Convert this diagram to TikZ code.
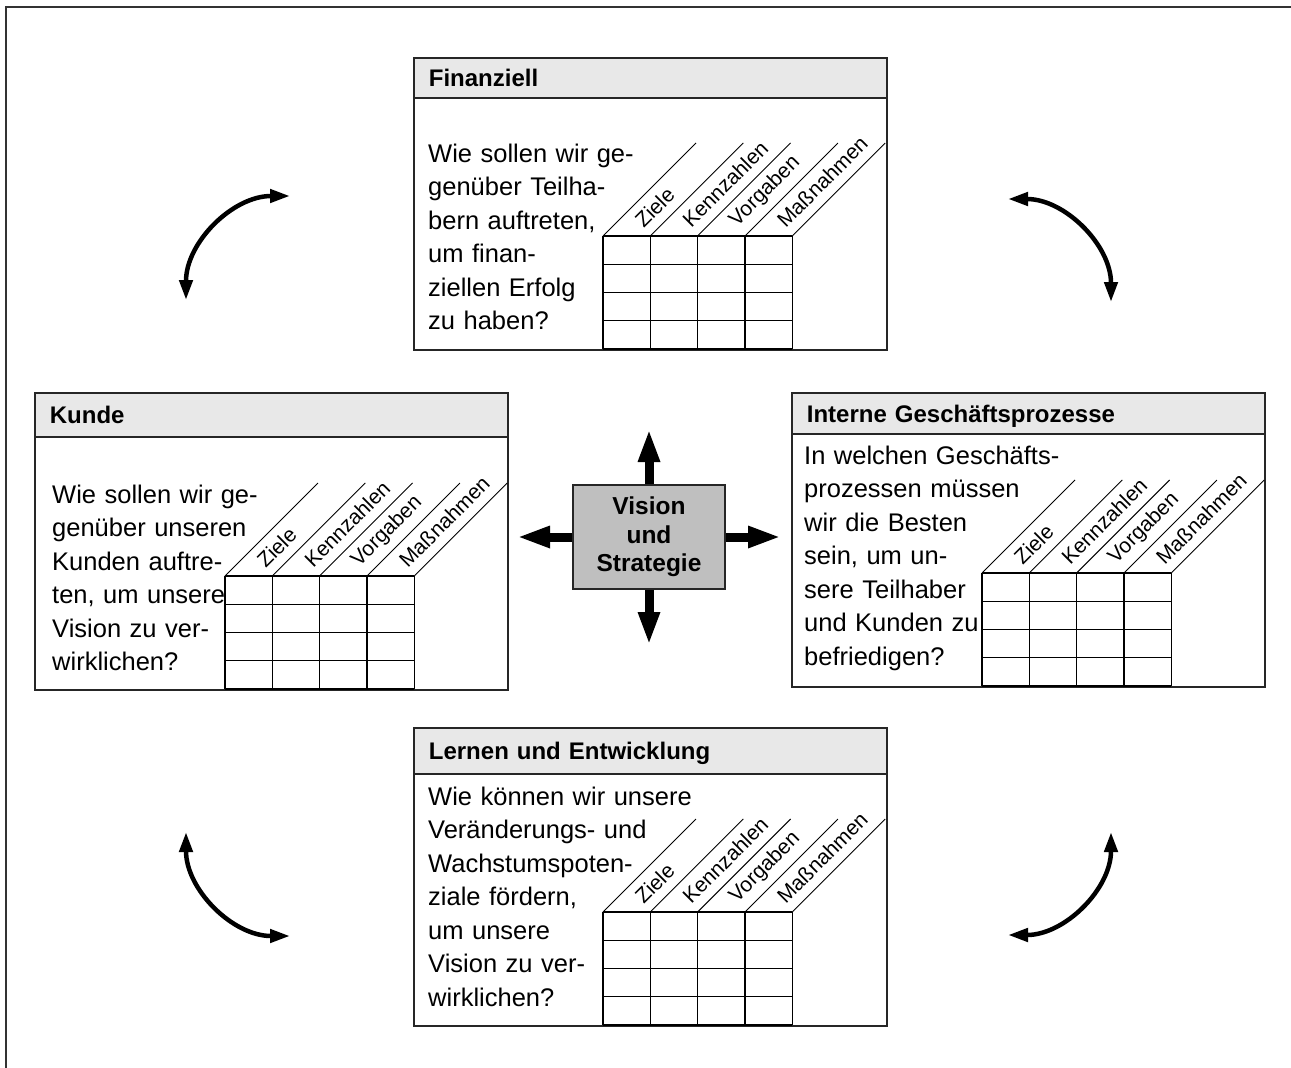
\documentclass[tikz,border=0pt]{standalone}
\usepackage{fontspec}
\setmainfont{Liberation Sans}
\usetikzlibrary{arrows.meta,positioning,calc}

\tikzset{
  rahmen/.style={line width=2pt, draw=black!80},
  kasten/.style={draw=black!85, line width=1.8pt, inner sep=0pt, anchor=north west, minimum width=473pt},
  kopf/.style={draw=black!85, line width=1.8pt, fill=black!9, anchor=north west, inner xsep=15pt, inner ysep=0pt,
    minimum width=473pt, text width=443pt, align=left, text height=17.5pt, text depth=0pt,
    font=\bfseries\fontsize{24}{28}\selectfont},
  frage/.style={anchor=base west, inner sep=0pt, align=left,
    font=\fontsize{25.5}{33.5}\selectfont},
  gitter/.style={line width=1.2pt, draw=black},
  schraeg/.style={line width=0.9pt, draw=black},
  spalte/.style={rotate=45, anchor=west, inner sep=0pt, font=\fontsize{21}{24}\selectfont},
  zentrum/.style={draw=black!85, line width=1.5pt, fill=black!25, minimum width=152pt, minimum height=104pt,
    align=center, font=\bfseries\fontsize{24.5}{28.5}\selectfont},
  dickpfeil/.style={line width=9pt, -{Triangle[length=33pt,width=20pt]}},
  bogenpfeil/.style={line width=4.5pt, {Triangle[length=20pt,width=13pt]}-{Triangle[length=20pt,width=13pt]}}
}

% Raster mit schraegen Spaltenkoepfen; #1,#2 = linke obere Ecke, #3 = Name
\newcommand{\zieltabelle}[3]{%
  \foreach \s in {0,...,4}{
    \draw[gitter] (#1+47.3*\s,#2) -- ++(0,113);
    \draw[schraeg] (#1+47.3*\s,#2) -- ++(93,-93);
  }
  \foreach \z in {0,...,4}
    \draw[gitter] (#1,#2+28.25*\z) -- ++(189.2,0);
  \foreach \t [count=\s from 0] in {Ziele,Kennzahlen,Vorgaben,Maßnahmen}
    \node[spalte] (#3-sp\s) at (#1+47.3*\s+35.5,#2-12.5) {\t};
}

\begin{document}
\begin{tikzpicture}[x=1pt,y=-1pt]
        \useasboundingbox (0,0) rectangle (1291,1068);

        % Aeusserer Rahmen (nur oben und links sichtbar)
        \coordinate (r1) at (1291,7);
        \coordinate (r2) at (6,7);
        \coordinate (r3) at (6,1068);
        \draw[rahmen] (r1) -- (r2) -- (r3);

        % Finanziell
        \node[kasten, minimum height=292pt] (fin) at (413,57) {};
        \node[kopf, minimum height=40pt] (fin-kopf) at (fin.north west) {Finanziell};
        \node[frage, text width=225pt] (fin-text) at (428,162) {Wie sollen wir ge-\\genüber Teilha-\\bern auftreten,\\um finan-\\ziellen Erfolg\\zu haben?};
        \zieltabelle{603}{236}{fin}

        % Kunde
        \node[kasten, minimum height=297pt] (kunde) at (34,392) {};
        \node[kopf, minimum height=44pt] (kunde-kopf) at (kunde.north west) {Kunde};
        \node[frage, text width=225pt] (kunde-text) at (52,503) {Wie sollen wir ge-\\genüber unseren\\Kunden auftre-\\ten, um unsere\\Vision zu ver-\\wirklichen?};
        \zieltabelle{225}{576}{kunde}

        % Interne Geschaeftsprozesse
        \node[kasten, minimum height=294pt] (intern) at (791,392) {};
        \node[kopf, minimum height=41pt] (intern-kopf) at (intern.north west) {Interne Geschäftsprozesse};
        \node[frage, text width=265pt] (intern-text) at (804,464) {In welchen Geschäfts-\\prozessen müssen\\wir die Besten\\sein, um un-\\sere Teilhaber\\und Kunden zu\\befriedigen?};
        \zieltabelle{982}{573}{intern}

        % Lernen und Entwicklung
        \node[kasten, minimum height=298pt] (lernen) at (413,727) {};
        \node[kopf, minimum height=46pt] (lernen-kopf) at (lernen.north west) {Lernen und Entwicklung};
        \node[frage, text width=270pt] (lernen-text) at (428,805) {Wie können wir unsere\\Veränderungs- und\\Wachstumspoten-\\ziale fördern,\\um unsere\\Vision zu ver-\\wirklichen?};
        \zieltabelle{603}{912}{lernen}

        % Mitte
        \node[zentrum] (vision) at (649,537) {Vision\\und\\Strategie};
        \coordinate (pfeil-n) at (649,429);
        \coordinate (pfeil-s) at (649,645);
        \coordinate (pfeil-w) at (517,537);
        \coordinate (pfeil-o) at (781,537);
        \draw[dickpfeil] (vision.north) -- (pfeil-n);
        \draw[dickpfeil] (vision.south) -- (pfeil-s);
        \draw[dickpfeil] (vision.west) -- (pfeil-w);
        \draw[dickpfeil] (vision.east) -- (pfeil-o);

        % Boegen in den Ecken
        \coordinate (bogen-lo) at (186,300);
        \coordinate (bogen-ro) at (1008,199);
        \coordinate (bogen-lu) at (186,832);
        \coordinate (bogen-ru) at (1111,832);
        \draw[bogenpfeil] (bogen-lo) arc[start angle=180, end angle=270, radius=104];
        \draw[bogenpfeil] (bogen-ro) arc[start angle=270, end angle=360, radius=103];
        \draw[bogenpfeil] (bogen-lu) arc[start angle=180, end angle=90, radius=104];
        \draw[bogenpfeil] (bogen-ru) arc[start angle=0, end angle=90, radius=103];
    \end{tikzpicture}
\end{document}
